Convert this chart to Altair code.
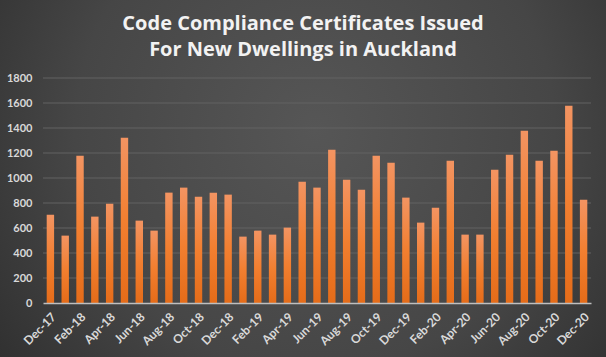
import altair as alt
import pandas as pd

months = [
    "Dec-17", "Jan-18", "Feb-18", "Mar-18", "Apr-18", "May-18", "Jun-18",
    "Jul-18", "Aug-18", "Sep-18", "Oct-18", "Nov-18", "Dec-18", "Jan-19",
    "Feb-19", "Mar-19", "Apr-19", "May-19", "Jun-19", "Jul-19", "Aug-19",
    "Sep-19", "Oct-19", "Nov-19", "Dec-19", "Jan-20", "Feb-20", "Mar-20",
    "Apr-20", "May-20", "Jun-20", "Jul-20", "Aug-20", "Sep-20", "Oct-20",
    "Nov-20", "Dec-20",
]
issued = [
    707, 539, 1179, 691, 795, 1323, 659, 579, 883, 923, 851, 883, 867,
    531, 579, 547, 603, 971, 923, 1227, 987, 907, 1179, 1123, 843, 643,
    763, 1139, 547, 547, 1067, 1187, 1379, 1139, 1219, 1579, 827,
]
y_ticks = [0, 200, 400, 600, 800, 1000, 1200, 1400, 1600, 1800]
x_label_months = months[::2]

df = pd.DataFrame({"month": months, "issued": issued})
grid_df = pd.DataFrame({"issued": y_ticks[1:]})
bg_df = pd.DataFrame({"k": [0]})

W, H = 548, 225
PL, PT, PR, PB = 43, 78, 15, 54
FONT = "Lato"
LABEL = "#d9d9d9"

y_scale = alt.Scale(domain=[0, 1800], nice=False)
y_axis = alt.Axis(
    title=None, values=y_ticks, format="d", labelColor=LABEL, labelFont=FONT,
    labelFontWeight="bold", labelFontSize=11, ticks=False,
    tickSize=0, labelPadding=11, domain=False, grid=False, zindex=1,
)

bg = alt.Chart(bg_df).mark_rect(
    fill={
        "gradient": "radial",
        "x1": 0.52, "y1": 0.42, "r1": 0,
        "x2": 0.52, "y2": 0.42, "r2": 0.72,
        "stops": [
            {"offset": 0, "color": "#565656"},
            {"offset": 0.55, "color": "#464646"},
            {"offset": 1, "color": "#2a2a2a"},
        ],
    }
).encode(
    x=alt.value(-PL), x2=alt.value(W + PR),
    y=alt.value(-PT), y2=alt.value(H + PB),
)

grid = alt.Chart(grid_df).mark_rule(color="#626262", strokeWidth=1).encode(
    y=alt.Y("issued:Q", scale=y_scale, axis=y_axis)
)

bars = alt.Chart(df).mark_bar(
    color={
        "gradient": "linear",
        "x1": 0, "y1": 0, "x2": 0, "y2": 1,
        "stops": [
            {"offset": 0, "color": "#F39462"},
            {"offset": 0.5, "color": "#F27F30"},
            {"offset": 1, "color": "#E56C19"},
        ],
    }
).encode(
    x=alt.X(
        "month:N", sort=months,
        scale=alt.Scale(paddingInner=0.5, paddingOuter=0.25),
        axis=alt.Axis(
            title=None, values=x_label_months, labelAngle=-45,
            labelColor=LABEL, labelFont=FONT, labelFontWeight="bold",
            labelFontSize=12, ticks=False, tickSize=0, labelPadding=8,
            domainColor="#bfbfbf", domainWidth=1.5, grid=False, zindex=1,
        ),
    ),
    y=alt.Y("issued:Q", scale=y_scale, axis=y_axis),
)

chart = alt.layer(bg, grid, bars).properties(
    width=W, height=H,
    padding={"left": PL, "top": PT, "right": PR, "bottom": PB},
    autosize=alt.AutoSizeParams(type="none"),
    title=alt.TitleParams(
        text=["Code Compliance Certificates Issued", "For New Dwellings in Auckland"],
        font="Open Sans", fontSize=20, fontWeight="bold", color="#f2f2f2",
        lineHeight=26, anchor="middle", frame="group", offset=-60, dx=-14,
        zindex=1,
    ),
).configure(background="#3c3c3c").configure_view(stroke=None)

chart.save("out.html", embed_options={"renderer": "svg", "actions": False})
